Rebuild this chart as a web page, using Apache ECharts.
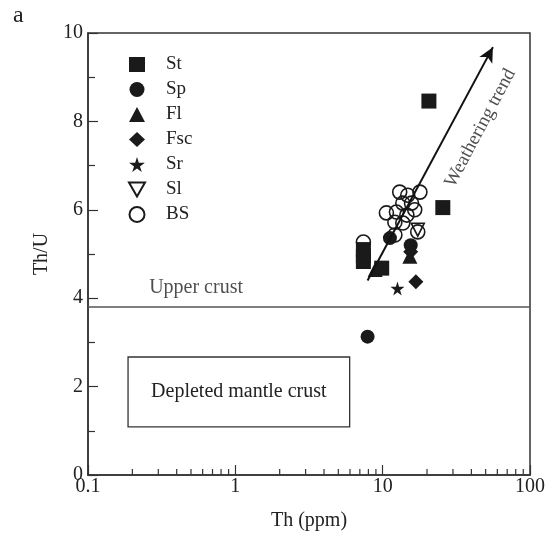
<!DOCTYPE html>
<html>
<head>
<meta charset="utf-8">
<script src="https://cdn.jsdelivr.net/npm/echarts@6/dist/echarts.min.js"></script>
<style>
  html, body { margin: 0; padding: 0; background: #fff; }
  #chart { width: 552px; height: 542px; }
</style>
</head>
<body>
<div id="chart"></div>
<script>
// Th (ppm) vs Th/U, one pair of arrays per group
const stTh = [20.6, 25.6, 7.4, 7.4, 7.4, 9.85];
const stTU = [8.46, 6.05, 5.1, 4.95, 4.83, 4.68];
const spTh = [7.9, 11.2, 15.5];
const spTU = [3.13, 5.36, 5.2];
const flTh = [15.3, 8.9];
const flTU = [4.95, 4.65];
const fscTh = [16.8, 15.5];
const fscTU = [4.37, 5.05];
const srTh = [12.6];
const srTU = [4.22];
const slTh = [17.3];
const slTU = [5.55];
const bsTh = [13.05, 14.8, 17.9, 13.7, 15.7, 10.6, 12.4, 14.6, 16.5, 12.1, 13.7, 17.3, 12.1, 7.4];
const bsTU = [6.40, 6.33, 6.40, 6.15, 6.15, 5.93, 5.95, 5.88, 6.00, 5.72, 5.70, 5.50, 5.43, 5.27];

const xTickLabels = ['0.1', '1', '10', '100'];
const xMinorTicks = [0.2, 0.3, 0.4, 0.5, 0.6, 0.7, 0.8, 0.9, 2, 3, 4, 5, 6, 7, 8, 9, 20, 30, 40, 50, 60, 70, 80, 90];
const upperCrust = 3.8;
const trendStart = [7.9, 4.4];
const trendEnd = [56, 9.68];
const depletedBox = [[0.187, 1.09], [5.97, 2.67]];

const FONT = '"Liberation Serif", "Times New Roman", serif';
const INK = '#1a1a1a';

const pairs = (xs, ys) => xs.map((x, i) => [x, ys[i]]);

const star = 'path://M50,0 L61,35 L98,35 L68,57 L79,91 L50,70 L21,91 L32,57 L2,35 L39,35 Z';
const downTri = 'path://M0,0 L100,0 L50,87 Z';

const filled = { color: INK, opacity: 1 };
const open = { color: 'rgba(0,0,0,0)', borderColor: INK, borderWidth: 1.6, opacity: 1 };

const groups = [
  { name: 'St', th: stTh, tu: stTU, symbol: 'rect', size: 15, style: filled },
  { name: 'Sp', th: spTh, tu: spTU, symbol: 'circle', size: 14, style: filled },
  { name: 'Fl', th: flTh, tu: flTU, symbol: 'triangle', size: 15, style: filled },
  { name: 'Fsc', th: fscTh, tu: fscTU, symbol: 'diamond', size: 15, style: filled },
  { name: 'Sr', th: srTh, tu: srTU, symbol: star, size: 14, style: filled },
  { name: 'Sl', th: slTh, tu: slTU, symbol: downTri, size: 13, style: open },
  { name: 'BS', th: bsTh, tu: bsTU, symbol: 'circle', size: 14, style: open }
];

const chart = echarts.init(document.getElementById('chart'), null, { renderer: 'canvas' });

const option = {
  animation: false,
  backgroundColor: '#fff',
  textStyle: { fontFamily: FONT },
  grid: {
    left: 88, right: 22, top: 33, bottom: 67,
    show: true, borderColor: '#333', borderWidth: 1.5, backgroundColor: 'transparent'
  },
  legend: {
    data: groups.map(g => g.name),
    orient: 'vertical',
    left: 123, top: 50,
    itemWidth: 16, itemHeight: 15,
    itemGap: 6, padding: 5,
    textStyle: { fontFamily: FONT, fontSize: 19, color: '#222', lineHeight: 18, padding: [0, 0, 0, 16] },
    selectedMode: false
  },
  graphic: [
    { type: 'text', left: 13, top: 4, style: { text: 'a', font: '24px ' + FONT, fill: '#222' } }
  ],
  xAxis: {
    type: 'log', logBase: 10, min: 0.1, max: 100,
    name: 'Th (ppm)', nameLocation: 'middle', nameGap: 36,
    nameTextStyle: { fontFamily: FONT, fontSize: 20, color: '#222' },
    axisLine: { show: true, lineStyle: { color: '#333', width: 1.5 } },
    axisTick: { show: true, inside: true, length: 10, lineStyle: { color: '#333', width: 1.2 } },
    axisLabel: {
      fontFamily: FONT, fontSize: 20, color: '#222', margin: 2,
      formatter: v => xTickLabels[Math.round(Math.log10(v)) + 1]
    },
    splitLine: { show: false }
  },
  yAxis: {
    type: 'value', min: 0, max: 10, interval: 2,
    name: 'Th/U', nameLocation: 'middle', nameGap: 35, nameRotate: 90,
    nameTextStyle: { fontFamily: FONT, fontSize: 20, color: '#222' },
    axisLine: { show: true, lineStyle: { color: '#333', width: 1.5 } },
    axisTick: { show: true, inside: true, length: 10, lineStyle: { color: '#333', width: 1.2 } },
    minorTick: { show: true, splitNumber: 2, length: 7, lineStyle: { color: '#333', width: 1.2 } },
    axisLabel: { fontFamily: FONT, fontSize: 20, color: '#222', margin: 5 },
    splitLine: { show: false }
  },
  series: [
    {
      // minor ticks of the log axis, placed by the axis scale
      type: 'custom',
      name: 'xMinor',
      silent: true,
      clip: false,
      data: xMinorTicks.map(v => [v, 0]),
      renderItem: (params, api) => {
        const p = api.coord([api.value(0), 0]);
        return {
          type: 'line',
          shape: { x1: p[0], y1: p[1], x2: p[0], y2: p[1] - 6 },
          style: { stroke: '#333', lineWidth: 1.2 }
        };
      }
    },
    {
      type: 'scatter',
      name: 'notes',
      silent: true,
      symbolSize: 0,
      z: 1,
      data: [
        {
          value: [0.26, 4.23],
          label: { show: true, position: 'right', distance: 0, formatter: 'Upper crust',
            fontFamily: FONT, fontSize: 20, color: '#222' }
        },
        {
          value: [46, 7.85],
          label: { show: true, position: 'inside', rotate: 62, formatter: 'Weathering trend',
            fontFamily: FONT, fontSize: 19, color: '#222' }
        }
      ],
      markLine: {
        silent: true,
        symbol: ['none', 'none'],
        label: { show: false },
        data: [
          { yAxis: upperCrust, lineStyle: { color: '#555', width: 1.6, type: 'solid' } },
          [
            { coord: trendStart, symbol: 'none' },
            { coord: trendEnd, symbol: 'arrow', symbolSize: [11, 15],
              lineStyle: { color: '#111', width: 2, type: 'solid' } }
          ]
        ]
      },
      markArea: {
        silent: true,
        itemStyle: { color: 'rgba(0,0,0,0)', borderColor: '#333', borderWidth: 1.3 },
        label: { show: true, position: 'inside', fontFamily: FONT, fontSize: 20, color: '#222' },
        data: [[
          { name: 'Depleted mantle crust', coord: depletedBox[0] },
          { coord: depletedBox[1] }
        ]]
      }
    },
    ...groups.map(g => ({
      type: 'scatter',
      name: g.name,
      symbol: g.symbol,
      symbolSize: g.size,
      itemStyle: g.style,
      z: 3,
      data: pairs(g.th, g.tu)
    }))
  ]
};

chart.setOption(option);
</script>
</body>
</html>
